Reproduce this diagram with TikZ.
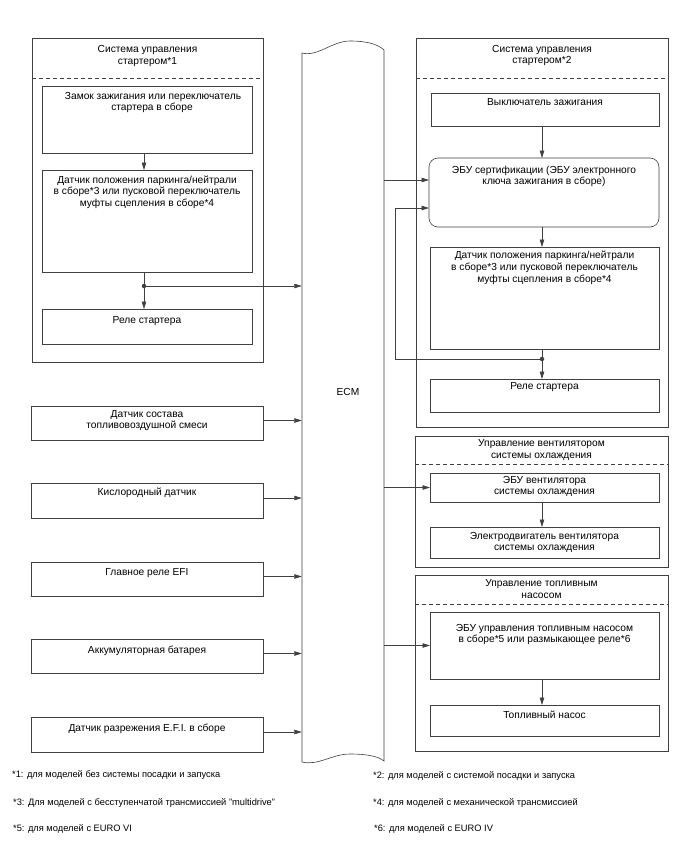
\documentclass[tikz,border=0pt]{standalone}
\usepackage{fontspec}
\setmainfont{Liberation Sans}
\usetikzlibrary{arrows.meta}
\definecolor{lc}{gray}{0.25}
\tikzset{
  box/.style={draw=lc, line width=0.6pt, inner sep=0pt, outer sep=0pt},
  conn/.style={draw=lc, line width=0.6pt, -{Triangle[length=7.5pt,width=4.5pt]}},
  wire/.style={draw=lc, line width=0.6pt},
  sepline/.style={draw=lc, line width=0.6pt, dash pattern=on 4pt off 3pt},
  dotn/.style={circle, fill=lc, inner sep=0pt, minimum size=4.5pt},
  fn/.style={font=\fontsize{9.3}{11}\selectfont, anchor=base west, inner sep=0pt},
}
\newcommand\mkbox[8][]{%
 \pgfmathsetmacro\bw{#5-#3}\pgfmathsetmacro\bh{#6-#4}%
 \node[box,#1,anchor=north west] (#2) at (#3,#4) {\parbox[c][\bh pt][t]{\bw pt}{\centering\fontsize{10.2}{11.8}\selectfont\vspace*{#7pt}\rule{0pt}{7.5pt}#8\par}};%
}
\begin{document}
\begin{tikzpicture}[x=1pt,y=-1pt]
\fill[white] (0,0) rectangle (688,852);
\useasboundingbox (0,0) rectangle (688,852);

% ECM
\node[minimum width=82pt, minimum height=709pt, inner sep=0pt] (ecm) at (343,407.5) {};
\draw[wire] (302,53) -- (302,762)
  .. controls (318,766) and (332,754) .. (350,754)
  .. controls (366,754) and (378,756) .. (384,761)
  -- (384,50)
  .. controls (378,44) and (366,41) .. (350,41)
  .. controls (332,41) and (318,57) .. (302,53) -- cycle;
\node[font=\fontsize{10.2}{11}\selectfont] (ecmlbl) at (348,392) {ECM};

% Left group
\mkbox{L1}{32}{38}{263}{362}{7.2}{Система управления\\стартером*1}
\draw[sepline] (L1.west |- 0,78) -- (L1.east |- 0,78);
\mkbox{LA}{42}{86}{252}{153}{5.5}{\hspace*{12pt}Замок зажигания или переключатель\\\hspace*{10pt}стартера в сборе}
\mkbox{LB}{42}{170}{252}{272}{5.5}{Датчик положения паркинга/нейтрали\\в сборе*3 или пусковой переключатель\\муфты сцепления в сборе*4}
\mkbox{LC}{42}{309}{252}{344}{6.5}{Реле стартера}
\coordinate (dotL) at (144,286);

\mkbox{S1}{31}{406}{263}{440}{3.5}{Датчик состава\\топливовоздушной смеси}
\mkbox{S2}{31}{483}{263}{518}{4.5}{Кислородный датчик}
\mkbox{S3}{31}{562}{263}{596}{5.5}{Главное реле EFI}
\mkbox{S4}{31}{639}{263}{673}{7}{Аккумуляторная батарея}
\mkbox{S5}{31}{717}{263}{752}{6.5}{Датчик разрежения E.F.I. в сборе}

% Right group 1
\mkbox{R1}{416}{38}{668}{427}{6.5}{Система управления\\стартером*2}
\draw[sepline] (R1.west |- 0,78) -- (R1.east |- 0,78);
\mkbox{RA}{431}{93}{659}{126}{4.5}{Выключатель зажигания}
\mkbox[rounded corners=9pt]{RB}{429}{158}{659}{227}{7.5}{ЭБУ сертификации (ЭБУ электронного\\ключа зажигания в сборе)}
\mkbox{RC}{430}{247}{659}{349}{4}{Датчик положения паркинга/нейтрали\\в сборе*3 или пусковой переключатель\\муфты сцепления в сборе*4}
\mkbox{RD}{430}{379}{659}{412}{2.5}{Реле стартера}
\coordinate (dotR) at (542,359);
\coordinate (fb) at (395,208);

% Right group 2
\mkbox{R2}{415}{436}{668}{567}{3.2}{Управление вентилятором\\системы охлаждения}
\draw[sepline] (R2.west |- 0,464) -- (R2.east |- 0,464);
\mkbox{RE}{430}{473}{659}{502}{2.5}{ЭБУ вентилятора\\системы охлаждения}
\mkbox{RF}{430}{527}{659}{558}{4.5}{Электродвигатель вентилятора\\системы охлаждения}

% Right group 3
\mkbox{R3}{415}{575}{668}{751}{4}{Управление топливным\\насосом}
\draw[sepline] (R3.west |- 0,604) -- (R3.east |- 0,604);
\mkbox{RG}{430}{612}{659}{679}{11.5}{ЭБУ управления топливным насосом\\в сборе*5 или размыкающее реле*6}
\mkbox{RH}{430}{705}{659}{736}{5.5}{Топливный насос}

% Connectors left
\draw[conn] (LA.south -| dotL) -- (LB.north -| dotL);
\draw[wire] (LB.south -| dotL) -- (dotL);
\draw[conn] (dotL) -- (LC.north -| dotL);
\draw[conn] (dotL) -- (dotL -| ecm.west);
\node[dotn] (dL) at (dotL) {};
\foreach \s in {S1,S2,S3,S4,S5}{
  \draw[conn] ([yshift=2.5pt]\s.east) -- ([yshift=2.5pt]\s.east -| ecm.west);
}

% Connectors right
\draw[conn] (RA.south -| dotR) -- (RB.north -| dotR);
\draw[conn] ([yshift=12.5pt]RB.west -| ecm.east) -- ([yshift=12.5pt]RB.west);
\draw[conn] (RB.south -| dotR) -- (RC.north -| dotR);
\draw[wire] (RC.south -| dotR) -- (dotR);
\draw[conn] (dotR) -- (RD.north -| dotR);
\draw[conn] (dotR) -- (dotR -| fb) -- (fb) -- (fb -| RB.west);
\node[dotn] (dR) at (dotR) {};
\draw[conn] (RE.west -| ecm.east) -- (RE.west);
\draw[conn] (RE.south -| dotR) -- (RF.north -| dotR);
\draw[conn] (RG.west -| ecm.east) -- (RG.west);
\draw[conn] (RG.south -| dotR) -- (RH.north -| dotR);

% Footnotes
\node[fn] (fn1) at (12,777) {*1: для моделей без системы посадки и запуска};
\node[fn] (fn3) at (13,805) {*3: Для моделей с бесступенчатой трансмиссией "multidrive"};
\node[fn] (fn5) at (13,831) {*5: для моделей с EURO VI};
\node[fn] (fn2) at (373,778) {*2: для моделей с системой посадки и запуска};
\node[fn] (fn4) at (373,805) {*4: для моделей с механической трансмиссией};
\node[fn] (fn6) at (374,831) {*6: для моделей с EURO IV};
\end{tikzpicture}
\end{document}
